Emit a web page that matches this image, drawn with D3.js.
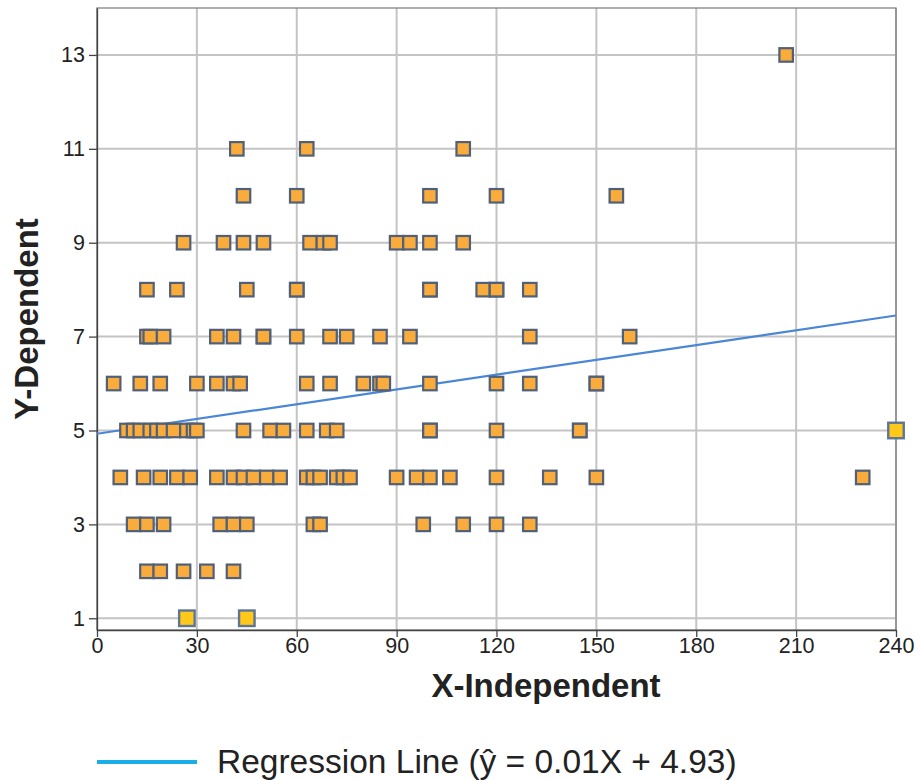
<!DOCTYPE html>
<html><head><meta charset="utf-8">
<script src="https://cdn.jsdelivr.net/npm/d3@7"></script>
<style>
body{margin:0;background:#fff;}
svg{display:block;font-family:"Liberation Sans",Arial,sans-serif;}
</style></head>
<body><svg id="c" width="919" height="780"></svg>
<script>
// ---- data ----
const pointX = [
  207,
  42,63,110,
  44,60,100,120,156,
  26,38,44,50,64,68,70,90,94,100,110,
  15,24,45,60,60,100,100,116,120,120,130,
  15,16,20,36,41,50,50,60,70,75,85,94,130,160,
  5,13,19,30,36,41,43,63,70,80,85,86,100,120,130,150,150,
  9,11,13,16,18,20,23,27,29,30,44,52,56,63,69,72,100,100,120,145,145,
  7,14,19,24,28,36,41,44,47,51,55,63,65,67,72,74,76,90,96,100,106,120,136,150,230,
  11,15,20,37,41,45,65,67,98,110,120,130,
  15,19,26,33,41
];
const pointY = [
  13,
  11,11,11,
  10,10,10,10,10,
  9,9,9,9,9,9,9,9,9,9,9,
  8,8,8,8,8,8,8,8,8,8,8,
  7,7,7,7,7,7,7,7,7,7,7,7,7,7,
  6,6,6,6,6,6,6,6,6,6,6,6,6,6,6,6,6,
  5,5,5,5,5,5,5,5,5,5,5,5,5,5,5,5,5,5,5,5,5,
  4,4,4,4,4,4,4,4,4,4,4,4,4,4,4,4,4,4,4,4,4,4,4,4,4,
  3,3,3,3,3,3,3,3,3,3,3,3,
  2,2,2,2,2
];
const highlightX = [27, 45, 240];
const highlightY = [1, 1, 5];
const xTicks = [0,30,60,90,120,150,180,210,240];
const yTicks = [1,3,5,7,9,11,13];
const regression = {intercept: 4.93, slope: 0.0105};
const legendLabel = "Regression Line (ŷ = 0.01X + 4.93)";
const xTitle = "X-Independent", yTitle = "Y-Dependent";

// ---- layout ----
const svg = d3.select("#c");
const L = 97, R = 896, T = 8, B = 630;
const x = d3.scaleLinear().domain([0,240]).range([L,R]);
const y = d3.scaleLinear().domain([0.75,14]).range([B,T]);

// grid
const g = svg.append("g");
g.selectAll(".vg").data(xTicks).join("line")
  .attr("x1",d=>x(d)).attr("x2",d=>x(d)).attr("y1",T).attr("y2",B)
  .attr("stroke","#c4c4c4").attr("stroke-width",2);
g.selectAll(".hg").data(yTicks).join("line")
  .attr("x1",L).attr("x2",R).attr("y1",d=>y(d)).attr("y2",d=>y(d))
  .attr("stroke","#c4c4c4").attr("stroke-width",2);
// frame
svg.append("rect").attr("x",L).attr("y",T).attr("width",R-L).attr("height",B-T)
  .attr("fill","none").attr("stroke","#7a7a7a").attr("stroke-width",1.2);

// axes
const xa = svg.append("g").attr("transform",`translate(0,${B})`)
  .call(d3.axisBottom(x).tickValues(xTicks).tickSize(7).tickSizeOuter(0).tickPadding(1));
const ya = svg.append("g").attr("transform",`translate(${L},0)`)
  .call(d3.axisLeft(y).tickValues(yTicks).tickSize(8).tickSizeOuter(0).tickPadding(4));
[xa,ya].forEach(a=>{
  a.select(".domain").attr("stroke","#444").attr("stroke-width",1.3);
  a.selectAll(".tick line").attr("stroke","#444").attr("stroke-width",1.3);
  a.selectAll(".tick text").attr("fill","#222").style("font-size","21.5px")
   .style("font-family","'Liberation Sans',Arial,sans-serif");
});

// regression line
svg.append("clipPath").attr("id","pc").append("rect")
  .attr("x",L).attr("y",T).attr("width",R-L).attr("height",B-T);
svg.append("line").attr("clip-path","url(#pc)")
  .attr("x1",x(0)).attr("y1",y(regression.intercept))
  .attr("x2",x(240)).attr("y2",y(regression.intercept+regression.slope*240))
  .attr("stroke","#4a86d8").attr("stroke-width",2.2);

// points
const pts = pointX.map((v,i)=>({x:v,y:pointY[i]}));
const s = 13.5;
svg.append("g").selectAll("rect").data(pts).join("rect")
  .attr("x",d=>x(d.x)-s/2).attr("y",d=>y(d.y)-s/2).attr("width",s).attr("height",s)
  .attr("fill","#f9ab3c").attr("stroke","#4f6078").attr("stroke-width",2.2);
const hp = highlightX.map((v,i)=>({x:v,y:highlightY[i]}));
const s2 = 15.5;
svg.append("g").selectAll("rect").data(hp).join("rect")
  .attr("x",d=>x(d.x)-s2/2).attr("y",d=>y(d.y)-s2/2).attr("width",s2).attr("height",s2)
  .attr("fill","#ffc81a").attr("stroke","#5e7594").attr("stroke-width",2.4);

// titles
svg.append("text").attr("x",546).attr("y",697).attr("text-anchor","middle")
  .style("font-size","33px").style("font-weight","bold").attr("fill","#222").text(xTitle);
svg.append("text").attr("transform","translate(38,319) rotate(-90)").attr("text-anchor","middle")
  .style("font-size","33px").style("font-weight","bold").attr("fill","#222").text(yTitle);

// legend
svg.append("line").attr("x1",97).attr("x2",197).attr("y1",762).attr("y2",762)
  .attr("stroke","#1aaee8").attr("stroke-width",4);
svg.append("text").attr("x",217).attr("y",773).style("font-size","33.5px")
  .attr("fill","#222").text(legendLabel);
</script></body></html>
